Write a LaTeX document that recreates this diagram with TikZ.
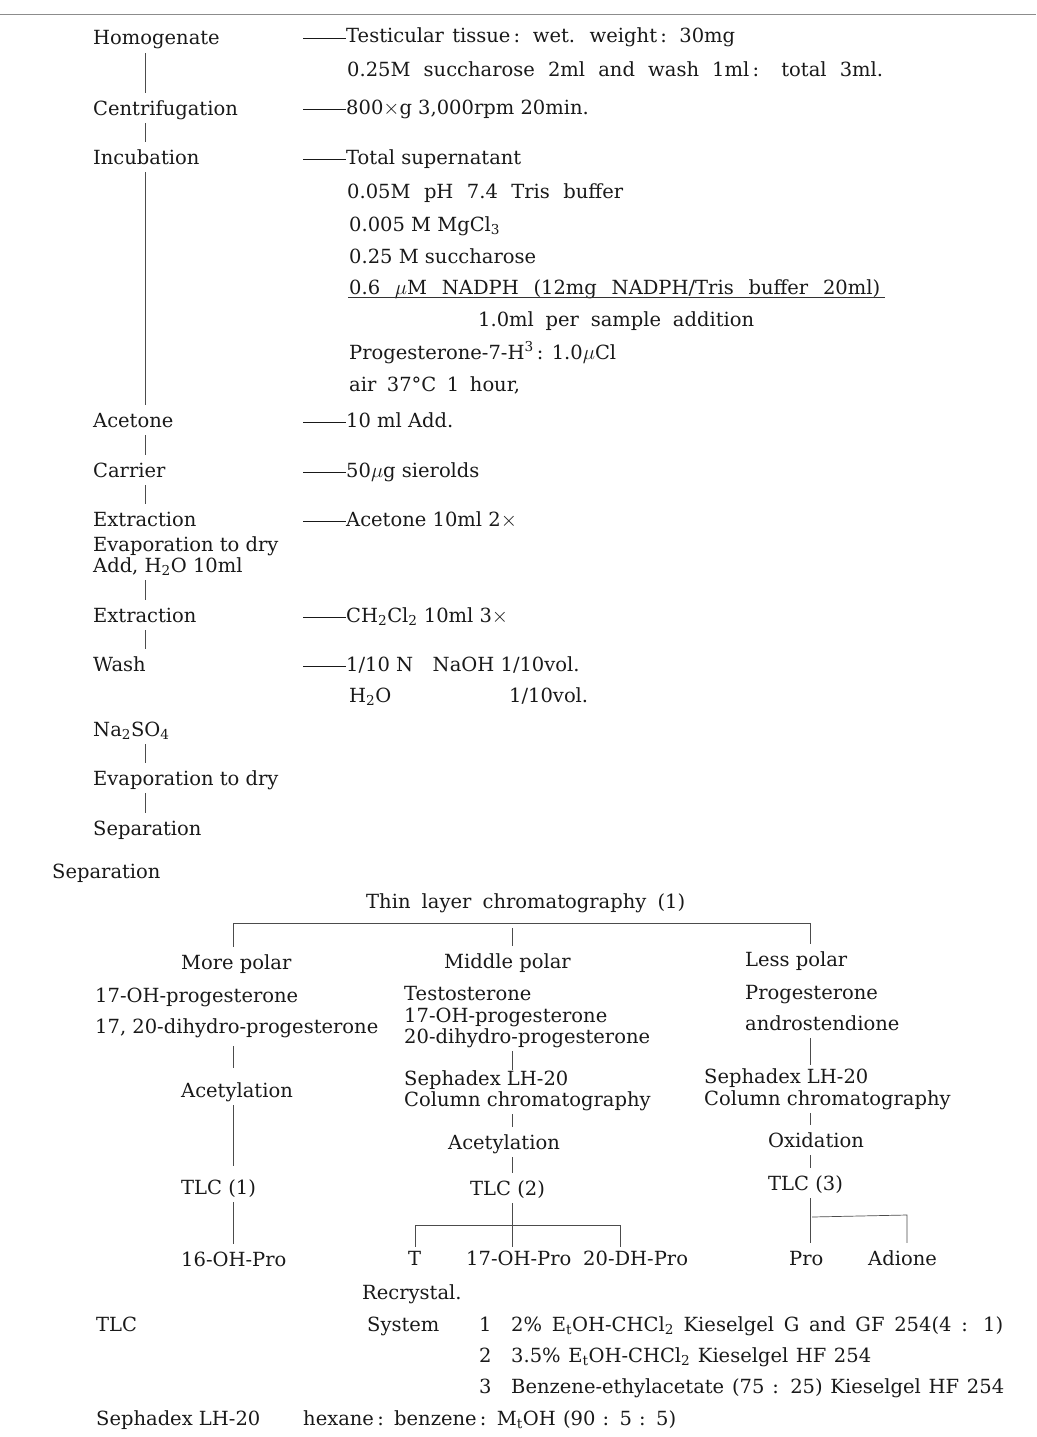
\documentclass[tikz,border=0pt]{standalone}
\usepackage{fontspec}
\setmainfont{DejaVu Serif}
\newcommand\lead{\rule[4.5pt]{43pt}{0.7pt}}
\newcommand\sx[2]{\makebox[#1][s]{#2}}
\begin{document}
\begin{tikzpicture}[x=1pt,y=-1pt,
  txt/.style={anchor=west, inner sep=0pt, minimum height=30pt, text height=16pt, text depth=2pt,
    text=black!90, font=\fontsize{19.5}{24}\selectfont},
  conn/.style={draw=black!70, line width=0.7pt}]
\useasboundingbox (0,0) rectangle (1036,1437);
\fill[white] (0,0) rectangle (1036,1437);
\draw[black!45, line width=0.8pt] (0,14) -- (1036,14);
% left column
\node[txt] (homog) at (93,38) {Homogenate};
\node[txt] (centr) at (93,108) {Centrifugation};
\node[txt] (incub) at (93,157) {Incubation};
\node[txt] (aceton) at (93,420) {Acetone};
\node[txt] (carrier) at (93,470) {Carrier};
\node[txt] (extr1) at (93,519) {Extraction};
\node[txt] (evap1) at (93,544) {Evaporation to dry};
\node[txt] (addw) at (93,565) {Add, H\textsubscript{2}O 10ml};
\node[txt] (extr2) at (93,615) {Extraction};
\node[txt] (wash) at (93,664) {Wash};
\node[txt] (naso) at (93,729) {Na\textsubscript{2}SO\textsubscript{4}};
\node[txt] (evap2) at (93,778) {Evaporation to dry};
\node[txt] (sep1) at (93,828) {Separation};
\coordinate (lx) at (145,0);
\draw[conn] (lx |- homog.south) -- (lx |- centr.north);
\draw[conn] (lx |- centr.south) -- (lx |- incub.north);
\draw[conn] (lx |- incub.south) -- (lx |- aceton.north);
\draw[conn] (lx |- aceton.south) -- (lx |- carrier.north);
\draw[conn] (lx |- carrier.south) -- (lx |- extr1.north);
\draw[conn] (lx |- addw.south) -- (lx |- extr2.north);
\draw[conn] (lx |- extr2.south) -- (lx |- wash.north);
\draw[conn] (lx |- naso.south) -- (lx |- evap2.north);
\draw[conn] (lx |- evap2.south) -- (lx |- sep1.north);
% right column
\node[txt] (r1) at (303,36) {\sx{432pt}{\lead Testicular tissue\,: wet. weight\,: 30mg}};
\node[txt] (r2) at (347,70) {\sx{536pt}{0.25M succharose 2ml and wash 1ml\,: total 3ml.}};
\node[txt] (r3) at (303,107) {\lead 800$\times$g 3,000rpm 20min.};
\node[txt] (r4) at (303,157) {\lead Total supernatant};
\node[txt] (r5) at (347,191) {\sx{276pt}{0.05M pH 7.4 Tris buffer}};
\node[txt] (r6) at (349,224) {0.005 M MgCl\textsubscript{3}};
\node[txt] (r7) at (349,256) {0.25 M succharose};
\node[txt] (r8) at (349,287) {\sx{531pt}{0.6 $\mu$M NADPH (12mg NADPH/Tris buffer 20ml)}};
\draw[black!80, line width=0.8pt] (348,297) -- (885,297);
\node[txt] (r9) at (478,319) {\sx{276pt}{1.0ml per sample addition}};
\node[txt] (r10) at (349,352) {Progesterone-7-H\textsuperscript{3}\,: 1.0$\mu$Cl};
\node[txt] (r11) at (349,384) {\sx{171pt}{air 37°C 1 hour,}};
\node[txt] (r12) at (303,420) {\lead 10 ml Add.};
\node[txt] (r13) at (303,470) {\lead 50$\mu$g sierolds};
\node[txt] (r14) at (303,519) {\lead Acetone 10ml 2$\times$};
\node[txt] (r15) at (303,615) {\lead CH\textsubscript{2}Cl\textsubscript{2} 10ml 3$\times$};
\node[txt] (r16) at (303,664) {\lead 1/10 N\quad NaOH 1/10vol.};
\node[txt] (r17) at (349,695) {H\textsubscript{2}O};
\node[txt] (r18) at (509,695) {1/10vol.};
% separation tree
\node[txt] (sep2) at (52,871) {Separation};
\node[txt] (tlc) at (366,901) {\sx{319pt}{Thin layer chromatography (1)}};
\node[txt] (more) at (181,962) {More polar};
\node[txt] (mid) at (444,961) {Middle polar};
\node[txt] (less) at (745,959) {Less polar};
\node[txt] (m1) at (95,995) {17-OH-progesterone};
\node[txt] (m2) at (95,1026) {17, 20-dihydro-progesterone};
\node[txt] (d1) at (404,993) {Testosterone};
\node[txt] (d2) at (404,1015) {17-OH-progesterone};
\node[txt] (d3) at (404,1036) {20-dihydro-progesterone};
\node[txt] (l1) at (745,992) {Progesterone};
\node[txt] (l2) at (745,1023) {androstendione};
\node[txt] (acet1) at (181,1090) {Acetylation};
\node[txt] (tlc1) at (181,1187) {TLC (1)};
\node[txt] (oh16) at (181,1259) {16-OH-Pro};
\node[txt] (seph2) at (404,1078) {Sephadex LH-20};
\node[txt] (col2) at (404,1099) {Column chromatography};
\node[txt] (acet2) at (448,1142) {Acetylation};
\node[txt] (tlc2) at (470,1188) {TLC (2)};
\node[txt] (tT) at (408,1258) {T};
\node[txt] (oh17) at (466,1258) {17-OH-Pro};
\node[txt] (dh20) at (583,1258) {20-DH-Pro};
\node[txt] (seph3) at (704,1076) {Sephadex LH-20};
\node[txt] (col3) at (704,1098) {Column chromatography};
\node[txt] (oxi) at (768,1140) {Oxidation};
\node[txt] (tlc3) at (768,1183) {TLC (3)};
\node[txt] (pro) at (789,1258) {Pro};
\node[txt] (adione) at (868,1258) {Adione};
\node[txt] (recr) at (362,1292) {Recrystal.};
\node[txt] (tlcL) at (96,1324) {TLC};
\node[txt] (sys) at (367,1324) {System};
\node[txt] (n1) at (479,1324) {1};
\node[txt] (s1) at (511,1324) {\sx{492pt}{2\% E\textsubscript{t}OH-CHCl\textsubscript{2} Kieselgel G and GF 254(4 : 1)}};
\node[txt] (n2) at (479,1355) {2};
\node[txt] (s2) at (511,1355) {\sx{360pt}{3.5\% E\textsubscript{t}OH-CHCl\textsubscript{2} Kieselgel HF 254}};
\node[txt] (n3) at (479,1386) {3};
\node[txt] (s3) at (511,1386) {\sx{493pt}{Benzene-ethylacetate (75 : 25) Kieselgel HF 254}};
\node[txt] (sephL) at (96,1418) {Sephadex LH-20};
\node[txt] (hex) at (303,1418) {\sx{373pt}{hexane\,: benzene\,: M\textsubscript{t}OH (90 : 5 : 5)}};
% tree connectors
\coordinate (cA) at (233,923);
\coordinate (cB) at (512,923);
\coordinate (cC) at (810,923);
\draw[conn] (cA) -- (cC);
\draw[conn] (cA) -- (cA |- more.north);
\draw[conn] ([yshift=-5pt]cB) -- (cB |- mid.north);
\draw[conn] (cC) -- (cC |- less.north);
\draw[conn, shorten <=5pt, shorten >=7pt] (cA |- m2.south) -- (cA |- acet1.north);
\draw[conn, shorten >=6pt] (cA |- acet1.south) -- (cA |- tlc1.north);
\draw[conn] (cA |- tlc1.south) -- (cA |- oh16.north);
\draw[conn, shorten >=-7pt] (cB |- d3.south) -- (cB |- seph2.north);
\draw[conn] (cB |- col2.south) -- (cB |- acet2.north);
\draw[conn] (cB |- acet2.south) -- (cB |- tlc2.north);
\coordinate (h2) at (512,1225);
\coordinate (h2L) at (415,1225);
\coordinate (h2R) at (620,1225);
\draw[conn] (h2 |- tlc2.south) -- (h2);
\draw[conn] (h2L) -- (h2R);
\draw[conn, shorten >=-4pt] (h2L) -- (h2L |- tT.north);
\draw[conn, shorten >=-4pt] (h2) -- (h2 |- oh17.north);
\draw[conn, shorten >=-4pt] (h2R) -- (h2R |- dh20.north);
\draw[conn, shorten >=-4pt] (cC |- l2.south) -- (cC |- seph3.north);
\draw[conn] (cC |- col3.south) -- (cC |- oxi.north);
\draw[conn] (cC |- oxi.south) -- (cC |- tlc3.north);
\draw[conn] (cC |- tlc3.south) -- (cC |- pro.north);
\coordinate (h3L) at (812,1217);
\coordinate (h3R) at (907,1215);
\draw[conn] (h3L) -- (h3R) -- (h3R |- adione.north);
\end{tikzpicture}
\end{document}
